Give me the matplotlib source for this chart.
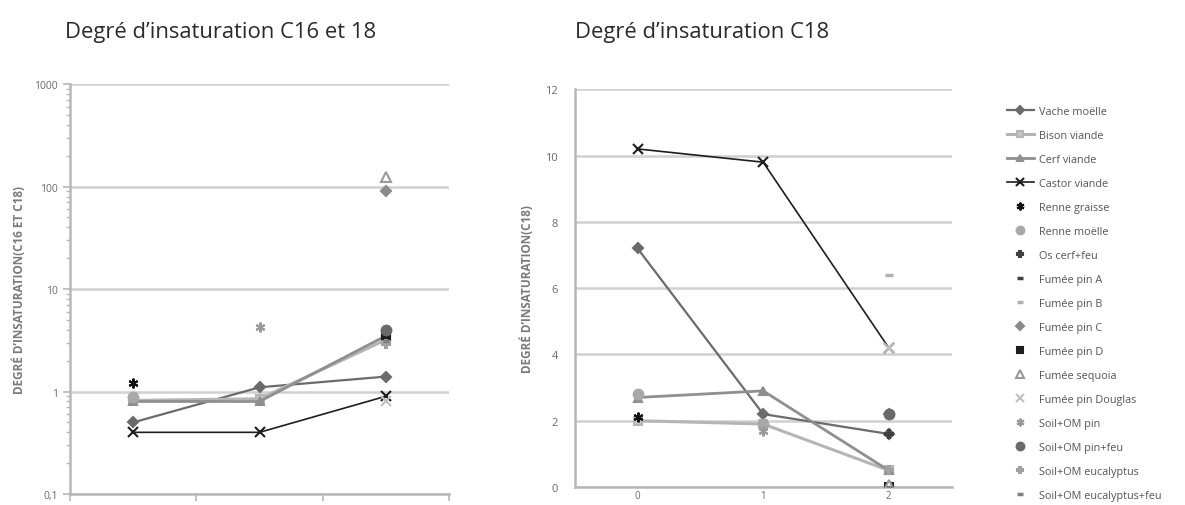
import numpy as np
import matplotlib.pyplot as plt
from matplotlib.ticker import FixedLocator, NullFormatter, LogLocator
from matplotlib.lines import Line2D

nan = np.nan

# category positions (unlabelled on left chart, 0/1/2 on right chart)
categories = [0, 1, 2]
right_tick_labels = ["0", "1", "2"]
left_tick_labels = ["1000", "100", "10", "1", "0,1"]

# ---- C16 et C18 (log scale) ----
vache_c1618 = [0.5, 1.1, 1.4]
bison_c1618 = [0.82, 0.85, 3.2]
cerf_c1618 = [0.8, 0.8, 3.5]
castor_c1618 = [0.4, 0.4, 0.9]
renne_graisse_c1618 = [1.22, nan, nan]
renne_moelle_c1618 = [0.88, nan, nan]
os_cerf_c1618 = [nan, nan, 3.4]
fumee_a_c1618 = [nan, nan, 3.3]
fumee_b_c1618 = [nan, nan, 3.0]
fumee_c_c1618 = [nan, nan, 90]
fumee_d_c1618 = [nan, nan, 3.6]
fumee_sequoia_c1618 = [nan, nan, 125]
fumee_douglas_c1618 = [nan, nan, 0.8]
soil_pin_c1618 = [nan, 4.3, nan]
soil_pinfeu_c1618 = [nan, nan, 4.0]
soil_euca_c1618 = [nan, nan, 2.9]
soil_eucafeu_c1618 = [nan, nan, 3.1]

# ---- C18 (linear scale) ----
vache_c18 = [7.2, 2.2, 1.6]
bison_c18 = [2.0, 1.9, 0.5]
cerf_c18 = [2.7, 2.9, 0.5]
castor_c18 = [10.2, 9.8, 4.2]
renne_graisse_c18 = [2.1, nan, nan]
renne_moelle_c18 = [2.8, 1.9, nan]
os_cerf_c18 = [nan, nan, 1.6]
fumee_a_c18 = [nan, nan, 0.0]
fumee_b_c18 = [nan, nan, 6.4]
fumee_c_c18 = [nan, nan, 2.2]
fumee_d_c18 = [nan, nan, 0.0]
fumee_sequoia_c18 = [nan, nan, 0.05]
fumee_douglas_c18 = [nan, nan, 4.2]
soil_pin_c18 = [nan, 1.7, nan]
soil_pinfeu_c18 = [nan, nan, 2.2]
soil_euca_c18 = [nan, nan, 0.5]
soil_eucafeu_c18 = [nan, nan, 0.0]

labels = ["Vache moëlle", "Bison viande", "Cerf viande", "Castor viande",
          "Renne graisse", "Renne moëlle", "Os cerf+feu", "Fumée pin A",
          "Fumée pin B", "Fumée pin C", "Fumée pin D", "Fumée sequoia",
          "Fumée pin Douglas", "Soil+OM pin", "Soil+OM pin+feu",
          "Soil+OM eucalyptus", "Soil+OM eucalyptus+feu"]

left_data = [vache_c1618, bison_c1618, cerf_c1618, castor_c1618,
             renne_graisse_c1618, renne_moelle_c1618, os_cerf_c1618,
             fumee_a_c1618, fumee_b_c1618, fumee_c_c1618, fumee_d_c1618,
             fumee_sequoia_c1618, fumee_douglas_c1618, soil_pin_c1618,
             soil_pinfeu_c1618, soil_euca_c1618, soil_eucafeu_c1618]
right_data = [vache_c18, bison_c18, cerf_c18, castor_c18,
              renne_graisse_c18, renne_moelle_c18, os_cerf_c18,
              fumee_a_c18, fumee_b_c18, fumee_c_c18, fumee_d_c18,
              fumee_sequoia_c18, fumee_douglas_c18, soil_pin_c18,
              soil_pinfeu_c18, soil_euca_c18, soil_eucafeu_c18]

# style per series: (color, linestyle, marker, face, markersize, lw)
styles = [
    ("#6b6b6b", "-", "D", "#6b6b6b", 5, 1.6),
    ("#b5b5b5", "-", "s", "#c8c8c8", 6, 2.2),
    ("#8f8f8f", "-", "^", "#8f8f8f", 6, 2.0),
    ("#1e1e1e", "-", "x", "none", 7, 1.2),
    ("#111111", "none", (6, 2, 0), "none", 7, 0),
    ("#a8a8a8", "none", "o", "#a8a8a8", 7, 0),
    ("#404040", "none", "P", "#404040", 6, 0),
    ("#404040", "none", "_", "none", 5, 0),
    ("#b0b0b0", "none", "_", "none", 6, 0),
    ("#8a8a8a", "none", "D", "#8a8a8a", 5, 0),
    ("#1e1e1e", "none", "s", "#1e1e1e", 6, 0),
    ("#9a9a9a", "none", "^", "white", 7, 0),
    ("#c0c0c0", "none", "x", "none", 7, 0),
    ("#9a9a9a", "none", (6, 2, 0), "none", 7, 0),
    ("#6a6a6a", "none", "o", "#6a6a6a", 7, 0),
    ("#a0a0a0", "none", "P", "#a0a0a0", 6, 0),
    ("#808080", "none", "_", "none", 5, 0),
]

plt.rcParams["font.family"] = ["Open Sans", "DejaVu Sans"]
grid_c = "#d0d0d0"
spine_c = "#b8b8b8"
text_c = "#6a6a6a"

fig = plt.figure(figsize=(11.85, 5.06), dpi=100)
ax1 = fig.add_axes([0.059, 0.0217, 0.320, 0.810])
ax2 = fig.add_axes([0.485, 0.0356, 0.318, 0.786])


def draw(ax, data):
    for vals, (c, ls, m, fc, ms, lw) in zip(data, styles):
        mew = 2.5 if m == "_" else 1.5
        ax.plot(categories, vals, color=c, linestyle=ls, linewidth=lw,
                marker=m, markerfacecolor=fc, markeredgecolor=c,
                markersize=ms, markeredgewidth=mew, zorder=3)


def style_axes(ax):
    for s in ["top", "right"]:
        ax.spines[s].set_visible(False)
    for s in ["left", "bottom"]:
        ax.spines[s].set_color(spine_c)
        ax.spines[s].set_linewidth(1.8)
    ax.grid(axis="y", which="major", color=grid_c, linewidth=1.8, zorder=0)
    ax.set_axisbelow(True)
    ax.tick_params(colors=spine_c, labelcolor=text_c, labelsize=7.5)


# left chart
draw(ax1, left_data)
ax1.set_yscale("log")
ax1.set_ylim(0.1, 1000)
ax1.set_xlim(-0.5, 2.5)
style_axes(ax1)
ax1.yaxis.set_major_locator(FixedLocator([1000, 100, 10, 1, 0.1]))
ax1.set_yticklabels(left_tick_labels)
ax1.yaxis.set_minor_locator(LogLocator(base=10, subs=np.arange(2, 10)))
ax1.yaxis.set_minor_formatter(NullFormatter())
ax1.tick_params(axis="y", which="major", length=5, width=1.2)
ax1.tick_params(axis="y", which="minor", length=3, width=1.0, colors=spine_c)
ax1.set_xticks([-0.5, 0.5, 1.5, 2.5])
ax1.set_xticklabels([])
ax1.tick_params(axis="x", length=5, width=1.2)
ax1.set_ylabel("DEGRÉ D’INSATURATION(C16 ET C18)", fontsize=8.5,
               fontweight="bold", color="#7a7a7a", labelpad=6)

# right chart
draw(ax2, right_data)
ax2.set_ylim(0, 12)
ax2.set_xlim(-0.5, 2.5)
style_axes(ax2)
ax2.set_yticks(range(0, 13, 2))
ax2.tick_params(axis="y", length=0, pad=12, labelsize=8)
ax2.set_xticks(categories)
ax2.set_xticklabels(right_tick_labels)
ax2.tick_params(axis="x", length=0, pad=2, labelsize=7)
ax2.set_ylabel("DEGRÉ D’INSATURATION(C18)", fontsize=8.5,
               fontweight="bold", color="#7a7a7a", labelpad=8)

fig.text(0.055, 0.935, "Degré d’insaturation C16 et 18", fontsize=15.8,
         color="#2a2a2a", va="center", ha="left")
fig.text(0.485, 0.935, "Degré d’insaturation C18", fontsize=15.8,
         color="#2a2a2a", va="center", ha="left")

# legend
handles = []
for lab, (c, ls, m, fc, ms, lw) in zip(labels, styles):
    mew = 2.5 if m == "_" else 1.5
    handles.append(Line2D([], [], color=c, linestyle=ls, linewidth=lw,
                          marker=m, markerfacecolor=fc, markeredgecolor=c,
                          markersize=ms * 0.8, markeredgewidth=mew))
leg = fig.legend(handles, labels, loc="upper left",
                 bbox_to_anchor=(0.846, 0.797), frameon=False, fontsize=7.8,
                 handlelength=2.5, handletextpad=0.5, labelspacing=1.2,
                 borderaxespad=0)
for t in leg.get_texts():
    t.set_color("#555555")

fig.savefig("out.png", dpi=100)
